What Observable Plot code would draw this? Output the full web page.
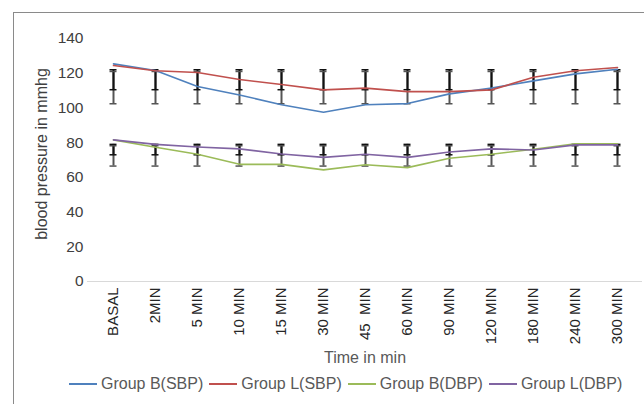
<!DOCTYPE html>
<html>
<head>
<meta charset="utf-8">
<script src="https://cdn.jsdelivr.net/npm/d3@7"></script>
<script src="https://cdn.jsdelivr.net/npm/@observablehq/plot@0.6"></script>
<style>
  html, body { margin: 0; padding: 0; background: #fff; }
  #wrap { position: relative; width: 644px; height: 404px; overflow: hidden; font-family: "Liberation Sans", Arial, sans-serif; }
  #frame { position: absolute; left: 13px; top: 12px; width: 700px; height: 450px; border-left: 1px solid #8a8a8a; border-top: 1px solid #8a8a8a; box-sizing: border-box; }
  #chart { position: absolute; left: 0; top: 0; }
  #ytitle { position: absolute; left: 41.5px; top: 153.5px; transform: translate(-50%, -50%) rotate(-90deg); font-size: 16px; color: #404040; white-space: nowrap; line-height: 18px; }
  #legend { position: absolute; left: 69px; top: 375px; display: flex; align-items: center; font-size: 16px; color: #595959; line-height: 18px; white-space: nowrap; }
  .item { display: flex; align-items: center; margin-right: 6px; }
  .sw { width: 28px; height: 2px; margin-right: 4px; }
</style>
</head>
<body>
<div id="wrap">
  <div id="frame"></div>
  <div id="chart"></div>
  <div id="ytitle">blood pressure in mmhg</div>
  <div id="legend"></div>
</div>
<script>
const categories = ["BASAL","2MIN","5 MIN","10 MIN","15 MIN","30 MIN","45\u00a0\u00a0MIN","60 MIN","90 MIN","120 MIN","180 MIN","240 MIN","300 MIN"];
const seriesNames = ["Group B(SBP)","Group L(SBP)","Group B(DBP)","Group L(DBP)"];
const seriesColors = ["#4F81BD","#C0504D","#9BBB59","#8064A2"];
const groupB_SBP = [125.4,121.6,112.3,107.5,101.8,97.5,101.8,102.5,108.1,111.4,115.6,119.6,122.3];
const groupL_SBP = [124.4,121.4,120.4,116.4,113.5,110.4,111.4,109.4,109.4,110.4,117.7,121.4,123.3];
const groupB_DBP = [81.6,77.3,73.3,67.5,67.5,64.3,67.3,65.6,71.0,73.3,76.2,79.4,79.4];
const groupL_DBP = [81.6,79.0,77.5,76.4,73.5,71.5,73.3,71.5,74.6,76.4,75.8,78.7,78.7];
// error bars (as drawn): [low, high] pairs for the two overlapping bars
const sbpErrA = [110.5, 122];
const sbpErrB = [102.4, 121];
const dbpErrA = [73, 79];
const dbpErrB = [66.5, 78.2];
const yTicks = [0,20,40,60,80,100,120,140];

const seriesValues = [groupB_SBP, groupL_SBP, groupB_DBP, groupL_DBP];
const lineData = [];
seriesNames.forEach((s, k) => categories.forEach((c, i) => lineData.push({cat: c, v: seriesValues[k][i], series: s})));

const errBars = [];
categories.forEach(c => {
  errBars.push({cat: c, lo: sbpErrB[0], hi: sbpErrB[1], col: "#555"});
  errBars.push({cat: c, lo: dbpErrB[0], hi: dbpErrB[1], col: "#555"});
  errBars.push({cat: c, lo: sbpErrA[0], hi: sbpErrA[1], col: "#111"});
  errBars.push({cat: c, lo: dbpErrA[0], hi: dbpErrA[1], col: "#111"});
});
const caps = [];
errBars.forEach(d => { caps.push({cat: d.cat, y: d.lo, col: d.col}); caps.push({cat: d.cat, y: d.hi, col: d.col}); });

const chart = Plot.plot({
  width: 644,
  height: 372,
  marginLeft: 87,
  marginRight: 2,
  marginTop: 38,
  marginBottom: 91,
  style: {fontFamily: "'Liberation Sans', Arial, sans-serif", background: "transparent"},
  x: {type: "band", domain: categories, padding: 0},
  y: {domain: [0, 140]},
  color: {domain: seriesNames, range: seriesColors},
  marks: [
    Plot.ruleY([0], {stroke: "#d9d9d9", strokeWidth: 1}),
    Plot.axisY({ticks: yTicks, tickSize: 0, tickPadding: 4, fontSize: 15.5, fill: "#404040", label: null}),
    Plot.axisX({tickRotate: -90, tickSize: 0, tickPadding: 6, fontSize: 15, fill: "#262626", label: null}),
    Plot.ruleX(errBars, {x: "cat", y1: "lo", y2: "hi", stroke: "col", strokeWidth: 2}),
    Plot.tickY(caps, {x: "cat", y: "y", stroke: "col", strokeWidth: 1.5, insetLeft: 17.5, insetRight: 17.5}),
    Plot.line(lineData, {x: "cat", y: "v", z: "series", stroke: "series", strokeWidth: 1.6}),
    Plot.text(["Time in min"], {frameAnchor: "bottom", dy: 81, fontSize: 16, fill: "#595959"})
  ]
});
document.getElementById("chart").appendChild(chart);

const legend = document.getElementById("legend");
seriesNames.forEach((s, k) => {
  const it = document.createElement("div");
  it.className = "item";
  const sw = document.createElement("div");
  sw.className = "sw";
  sw.style.background = seriesColors[k];
  const tx = document.createElement("span");
  tx.textContent = s;
  it.appendChild(sw); it.appendChild(tx);
  legend.appendChild(it);
});
</script>
</body>
</html>
